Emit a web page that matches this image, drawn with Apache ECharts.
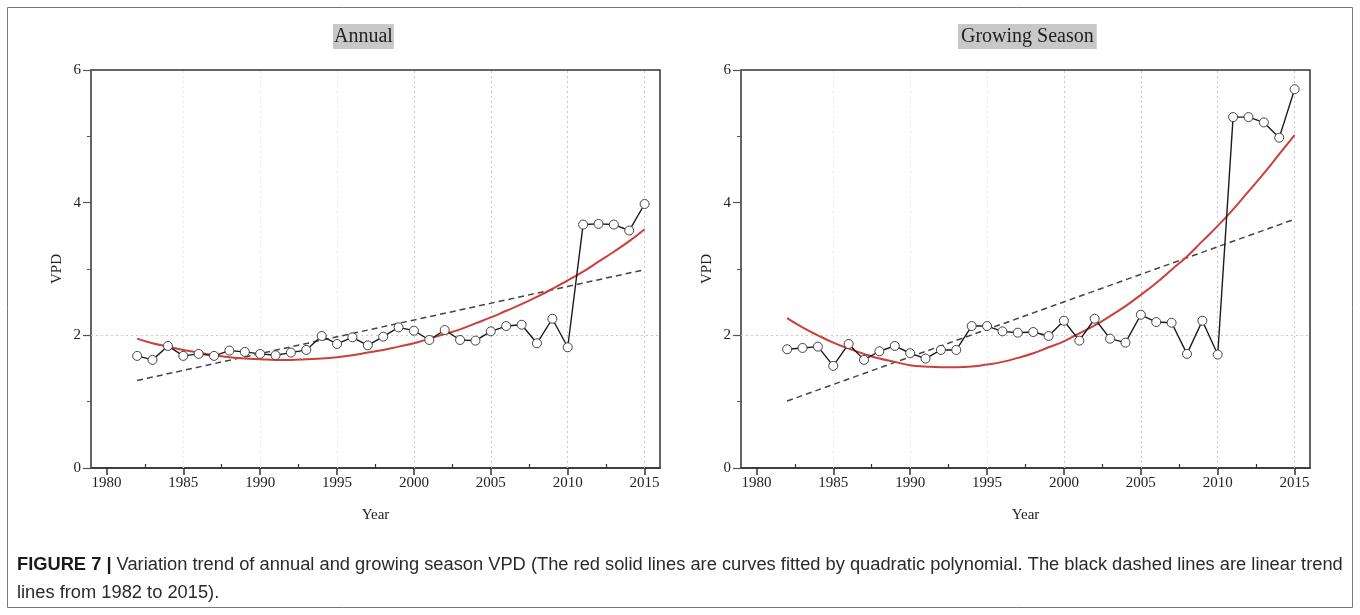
<!DOCTYPE html>
<html>
<head>
<meta charset="utf-8">
<script src="https://cdn.jsdelivr.net/npm/echarts@6/dist/echarts.min.js"></script>
<style>
html,body{margin:0;padding:0;background:#fff;}
#chart{width:1360px;height:615px;}
</style>
</head>
<body>
<div id="chart"></div>
<script>
// ---- data ----
const years = [1982,1983,1984,1985,1986,1987,1988,1989,1990,1991,1992,1993,1994,1995,1996,1997,1998,1999,2000,2001,2002,2003,2004,2005,2006,2007,2008,2009,2010,2011,2012,2013,2014,2015];
const annualVPD = [1.69,1.63,1.84,1.69,1.72,1.69,1.77,1.75,1.72,1.70,1.74,1.78,1.99,1.87,1.97,1.85,1.98,2.12,2.07,1.93,2.08,1.93,1.92,2.06,2.14,2.16,1.88,2.25,1.82,3.67,3.68,3.67,3.58,3.98];
const growingVPD = [1.79,1.81,1.83,1.54,1.87,1.63,1.76,1.84,1.73,1.65,1.78,1.78,2.14,2.14,2.06,2.04,2.05,1.99,2.22,1.92,2.25,1.95,1.89,2.31,2.20,2.19,1.72,2.22,1.71,5.29,5.29,5.21,4.98,5.71];
const annualFit = [1.95,1.88,1.83,1.78,1.74,1.70,1.67,1.65,1.64,1.63,1.63,1.64,1.65,1.67,1.70,1.74,1.78,1.83,1.88,1.95,2.02,2.09,2.18,2.27,2.37,2.47,2.58,2.70,2.83,2.96,3.11,3.26,3.42,3.60];
const growingFit = [2.26,2.12,2.00,1.89,1.80,1.72,1.65,1.60,1.55,1.53,1.52,1.52,1.53,1.56,1.60,1.66,1.73,1.82,1.91,2.03,2.15,2.29,2.44,2.61,2.79,2.99,3.19,3.42,3.65,3.90,4.17,4.44,4.73,5.02];
const trendYears = [1982, 2015];
const annualTrend = [1.32, 2.99];
const growingTrend = [1.01, 3.75];
const xTicks = [1980,1985,1990,1995,2000,2005,2010,2015];
const xMinorTicks = [1982.5,1987.5,1992.5,1997.5,2002.5,2007.5,2012.5];
const gridYears = [1985,1990,1995,2000,2005,2010,2015];
const panelTitles = ['Annual', 'Growing Season'];

const serif = '"Liberation Serif","DejaVu Serif",serif';
const sans = '"Liberation Sans","Noto Sans",sans-serif';
const pair = (xs, ys) => xs.map((x, i) => [x, ys[i]]);

function mainX(gridIndex) {
  return {
    type: 'value', gridIndex, min: 1979, max: 2016,
    name: 'Year', nameLocation: 'middle', nameGap: 40,
    nameTextStyle: {fontFamily: serif, fontSize: 15, color: '#222'},
    axisLine: {show: true, onZero: false, lineStyle: {color: '#333', width: 1.5}},
    axisTick: {show: true, customValues: xTicks, length: 7, lineStyle: {color: '#333', width: 1.5}},
    axisLabel: {show: true, customValues: xTicks, formatter: v => String(v),
                fontFamily: serif, fontSize: 15, color: '#222', margin: 8},
    splitLine: {show: false}
  };
}
function minorX(gridIndex) {
  return {
    type: 'value', gridIndex, min: 1979, max: 2016,
    axisLine: {show: false},
    axisTick: {show: true, customValues: xMinorTicks, length: 4, lineStyle: {color: '#333', width: 1.2}},
    axisLabel: {show: false},
    splitLine: {show: false}
  };
}
function yAx(gridIndex) {
  return {
    type: 'value', gridIndex, min: 0, max: 6, interval: 2,
    name: 'VPD', nameLocation: 'middle', nameGap: 26, nameRotate: 90,
    nameTextStyle: {fontFamily: serif, fontSize: 15, color: '#222'},
    axisLine: {show: true, onZero: false, lineStyle: {color: '#666', width: 1.5}},
    axisTick: {show: true, length: 8, lineStyle: {color: '#555', width: 1.2}},
    minorTick: {show: true, splitNumber: 2, length: 4, lineStyle: {color: '#555', width: 1}},
    axisLabel: {fontFamily: serif, fontSize: 15, color: '#222', margin: 10},
    splitLine: {show: false}
  };
}
function gridMarks() {
  const d = gridYears.map(y => ({xAxis: y, lineStyle: {color: y >= 2000 ? '#c8c8c8' : '#e8e8e8'}}));
  d.push({yAxis: 2, lineStyle: {color: '#c8c8c8'}});
  return {silent: true, symbol: 'none', label: {show: false},
          lineStyle: {type: [2, 3], width: 1}, data: d, z: 1};
}
function panelSeries(xi, yi, vals, fit, trend) {
  return [
    {type: 'line', xAxisIndex: xi, yAxisIndex: yi, data: pair(trendYears, trend),
     symbol: 'none', lineStyle: {color: '#444', width: 1.5, type: [6, 4]}, z: 2, markLine: gridMarks()},
    {type: 'line', xAxisIndex: xi, yAxisIndex: yi, data: pair(years, fit), smooth: true,
     symbol: 'none', lineStyle: {color: '#c9403c', width: 2}, z: 3},
    {type: 'line', xAxisIndex: xi, yAxisIndex: yi, data: pair(years, vals),
     symbol: 'circle', symbolSize: 9, showAllSymbol: true,
     itemStyle: {color: '#fff', borderColor: '#444', borderWidth: 1},
     lineStyle: {color: '#1a1a1a', width: 1.4}, z: 4}
  ];
}

const chart = echarts.init(document.getElementById('chart'), null, {renderer: 'canvas'});
chart.setOption({
  backgroundColor: '#fff',
  animation: false,
  title: [
    {text: panelTitles[0], left: 333, top: 24, backgroundColor: '#c8c8c8', padding: [3, 1, 2, 1],
     textStyle: {fontFamily: serif, fontSize: 20, fontWeight: 'normal', color: '#222'}},
    {text: panelTitles[1], left: 958, top: 24, backgroundColor: '#c8c8c8', padding: [3, 3, 2, 3],
     textStyle: {fontFamily: serif, fontSize: 20, fontWeight: 'normal', color: '#222'}},
    {text: '{b|FIGURE 7 |} Variation trend of annual and growing season VPD (The red solid lines are curves fitted by quadratic polynomial. The black dashed lines are linear trend\nlines from 1982 to 2015).',
     left: 17, top: 551, padding: 0,
     textStyle: {fontFamily: sans, fontSize: 18.3, fontWeight: 'normal', color: '#2a2a2a', lineHeight: 28,
       rich: {b: {fontFamily: sans, fontSize: 18.3, fontWeight: 'bold', color: '#1a1a1a', lineHeight: 28}}}}
  ],
  graphic: [
    {type: 'rect', shape: {x: 7.5, y: 7.5, width: 1345, height: 600}, silent: true,
     style: {fill: 'none', stroke: '#777', lineWidth: 1}}
  ],
  grid: [
    {left: 91, top: 70, width: 569, height: 398, show: true, borderColor: '#333', borderWidth: 1.5, backgroundColor: 'transparent'},
    {left: 741, top: 70, width: 569, height: 398, show: true, borderColor: '#333', borderWidth: 1.5, backgroundColor: 'transparent'}
  ],
  xAxis: [mainX(0), minorX(0), mainX(1), minorX(1)],
  yAxis: [yAx(0), yAx(1)],
  series: [
    ...panelSeries(0, 0, annualVPD, annualFit, annualTrend),
    ...panelSeries(2, 1, growingVPD, growingFit, growingTrend)
  ]
});
</script>
</body>
</html>
